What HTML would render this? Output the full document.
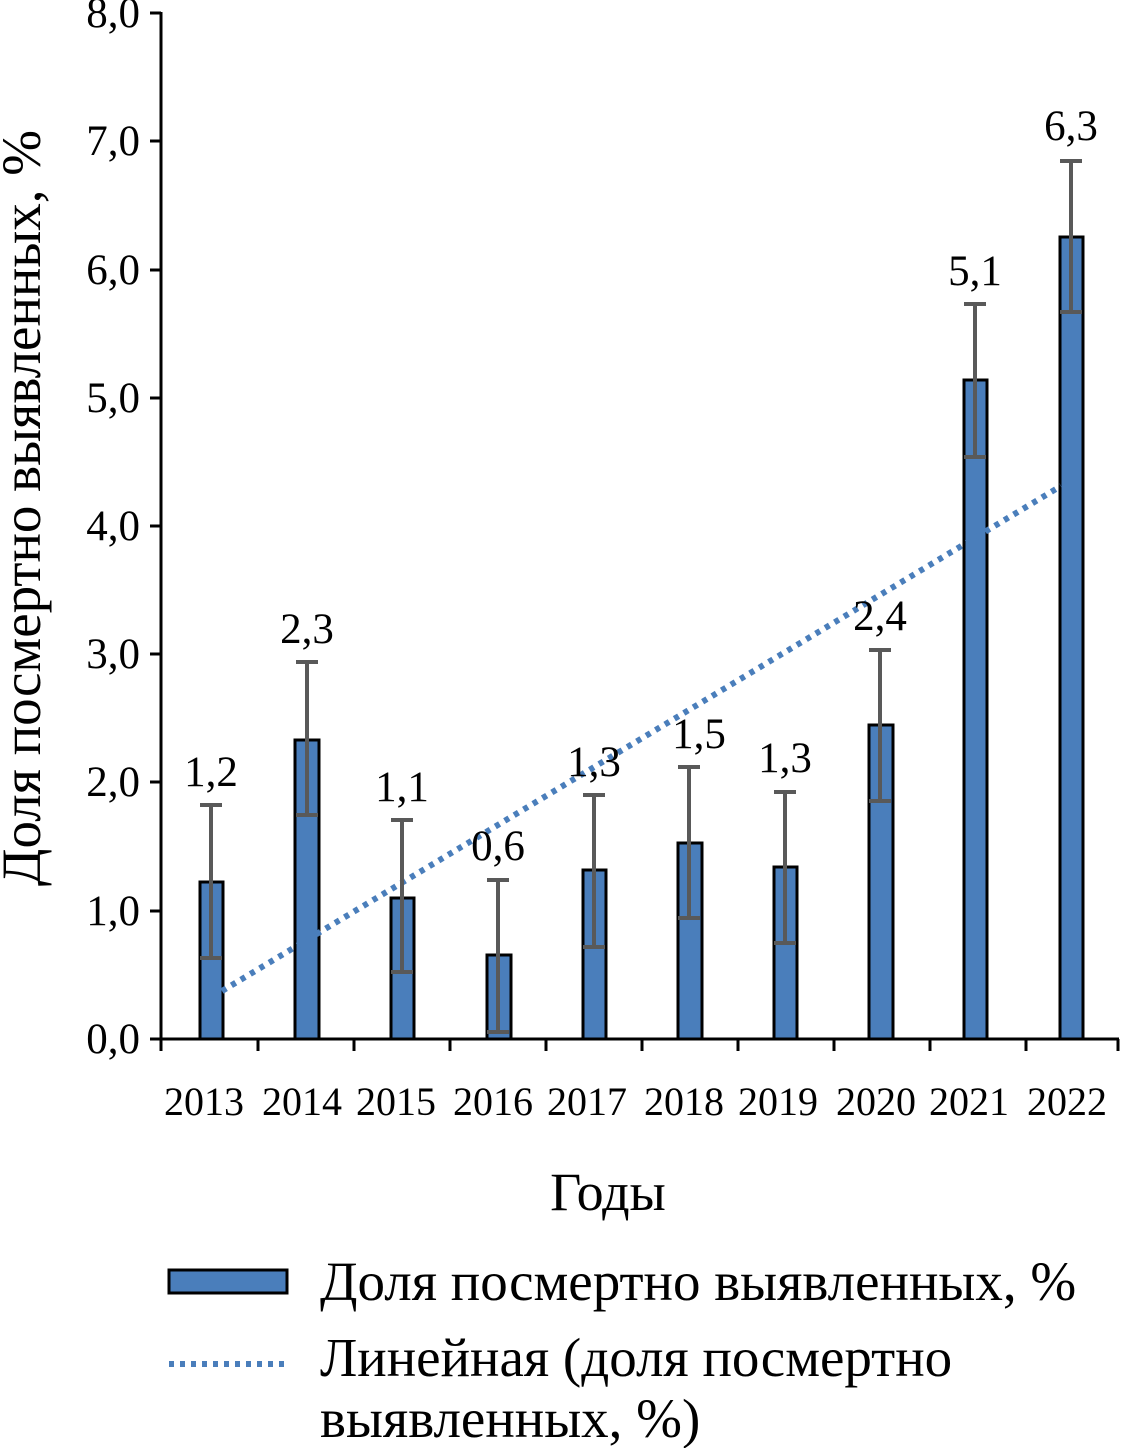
<!DOCTYPE html>
<html><head><meta charset="utf-8"><style>body{margin:0;background:#fff}svg{display:block}text{font-family:"Liberation Serif",serif;fill:#000}</style></head><body>
<svg width="1121" height="1448" xmlns="http://www.w3.org/2000/svg">
<g stroke="#000" stroke-width="3">
<line x1="161" y1="12" x2="161" y2="1040"/>
<line x1="160" y1="1039" x2="1119" y2="1039"/>
<line x1="150" y1="1039" x2="161" y2="1039"/><line x1="150" y1="911" x2="161" y2="911"/><line x1="150" y1="782" x2="161" y2="782"/><line x1="150" y1="654" x2="161" y2="654"/><line x1="150" y1="526" x2="161" y2="526"/><line x1="150" y1="398" x2="161" y2="398"/><line x1="150" y1="270" x2="161" y2="270"/><line x1="150" y1="141" x2="161" y2="141"/><line x1="150" y1="13" x2="161" y2="13"/>
<line x1="161" y1="1039" x2="161" y2="1051"/><line x1="258" y1="1039" x2="258" y2="1051"/><line x1="354" y1="1039" x2="354" y2="1051"/><line x1="450" y1="1039" x2="450" y2="1051"/><line x1="546" y1="1039" x2="546" y2="1051"/><line x1="642" y1="1039" x2="642" y2="1051"/><line x1="738" y1="1039" x2="738" y2="1051"/><line x1="834" y1="1039" x2="834" y2="1051"/><line x1="930" y1="1039" x2="930" y2="1051"/><line x1="1026" y1="1039" x2="1026" y2="1051"/><line x1="1118" y1="1039" x2="1118" y2="1051"/>
</g>
<g font-size="43" text-anchor="end">
<text x="140" y="1053">0,0</text><text x="140" y="925">1,0</text><text x="140" y="796">2,0</text><text x="140" y="668">3,0</text><text x="140" y="540">4,0</text><text x="140" y="412">5,0</text><text x="140" y="284">6,0</text><text x="140" y="155">7,0</text><text x="140" y="27">8,0</text>
</g>
<g fill="#4a7ebb" stroke="#000" stroke-width="3">
<rect x="200" y="882" width="23" height="157"/>
<rect x="295" y="740" width="24" height="299"/>
<rect x="391" y="898" width="23" height="141"/>
<rect x="487" y="955" width="24" height="84"/>
<rect x="583" y="870" width="23" height="169"/>
<rect x="678" y="843" width="24" height="196"/>
<rect x="774" y="867" width="23" height="172"/>
<rect x="869" y="725" width="24" height="314"/>
<rect x="964" y="380" width="23" height="659"/>
<rect x="1060" y="237" width="23" height="802"/>
</g>
<line x1="222" y1="991" x2="1061" y2="486" stroke="#4a7ebb" stroke-width="6" stroke-dasharray="5 6"/>
<g stroke="#595959" stroke-width="4">
<path d="M211 805V958M200 805H222M200 958H222"/>
<path d="M307 662V815M296 662H318M296 815H318"/>
<path d="M402 820V972M391 820H413M391 972H413"/>
<path d="M498 880V1032M487 880H509M487 1032H509"/>
<path d="M594 795V947M583 795H605M583 947H605"/>
<path d="M689 767V918M678 767H700M678 918H700"/>
<path d="M785 792V943M774 792H796M774 943H796"/>
<path d="M880 650V801M869 650H891M869 801H891"/>
<path d="M975 304V457M964 304H986M964 457H986"/>
<path d="M1071 161V312M1060 161H1082M1060 312H1082"/>
</g>
<g font-size="43" text-anchor="middle">
<text x="211" y="786">1,2</text><text x="307" y="643">2,3</text><text x="402" y="801">1,1</text><text x="498" y="860">0,6</text><text x="594" y="776">1,3</text><text x="699" y="748">1,5</text><text x="785" y="772">1,3</text><text x="880" y="630">2,4</text><text x="975" y="285">5,1</text><text x="1071" y="140">6,3</text>
</g>
<g font-size="40" text-anchor="middle">
<text x="204" y="1115">2013</text><text x="302" y="1115">2014</text><text x="396" y="1115">2015</text><text x="493" y="1115">2016</text><text x="587" y="1115">2017</text><text x="684" y="1115">2018</text><text x="778" y="1115">2019</text><text x="876" y="1115">2020</text><text x="969" y="1115">2021</text><text x="1067" y="1115">2022</text>
</g>
<text x="608" y="1210" font-size="54" text-anchor="middle">Годы</text>
<text transform="translate(40,508) rotate(-90)" font-size="55" text-anchor="middle">Доля посмертно выявленных, %</text>
<rect x="169" y="1270" width="118" height="23" fill="#4a7ebb" stroke="#000" stroke-width="3"/>
<line x1="169" y1="1364" x2="287" y2="1364" stroke="#4a7ebb" stroke-width="6" stroke-dasharray="5 6"/>
<g font-size="55"><text x="320" y="1300">Доля посмертно выявленных, %</text><text x="320" y="1376">Линейная (доля посмертно</text><text x="320" y="1437">выявленных, %)</text></g>
</svg>
</body></html>
